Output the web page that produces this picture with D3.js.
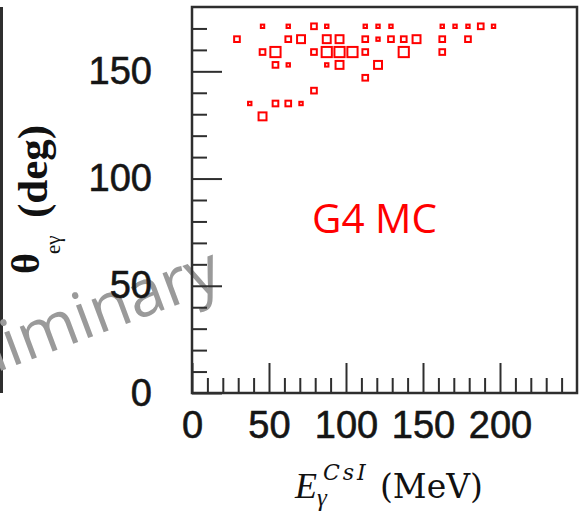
<!DOCTYPE html>
<html>
<head>
<meta charset="utf-8">
<script src="https://cdn.jsdelivr.net/npm/d3@7"></script>
<style>
  html, body { margin: 0; padding: 0; background: #fff; }
  svg { display: block; }
</style>
</head>
<body>
<svg id="chart" width="586" height="527"></svg>
<script>
// ---- data -------------------------------------------------------------
// Axis ranges and tick labels
const xDomain = [0, 250];          // E_gamma (MeV)
const yDomain = [0, 180];          // theta (deg)
const xMajorTicks = [0, 50, 100, 150, 200];
const yMajorTicks = [0, 50, 100, 150];
const xMinorTicks = d3.range(10, 250, 10).filter(v => v % 50 !== 0);
const yMinorTicks = d3.range(10, 180, 10).filter(v => v % 50 !== 0);

// 2D histogram cells (bin centres) and their contents
const cellE = [
  45.8, 62.5, 79.2, 87.5, 112.5, 120.8, 129.2, 162.5, 170.8, 179.2, 187.5, 195.8,
  29.2, 62.5, 70.8, 87.5, 95.8, 112.5, 120.8, 129.2, 137.5, 145.8, 162.5, 179.2,
  45.8, 54.2, 79.2, 87.5, 95.8, 104.2, 112.5, 137.5, 162.5,
  54.2, 62.5, 87.5, 95.8, 120.8,
  112.5,
  79.2,
  37.5, 54.2, 62.5, 70.8,
  45.8
];
const cellTheta = [
  171, 171, 171, 171, 171, 171, 171, 171, 171, 171, 171, 171,
  165, 165, 165, 165, 165, 165, 165, 165, 165, 165, 165, 165,
  159, 159, 159, 159, 159, 159, 159, 159, 159,
  153, 153, 153, 153, 153,
  147,
  141,
  135, 135, 135, 135,
  129
];
const cellCount = [
  1, 1, 2, 1, 1, 1, 1, 1, 1, 1, 2, 1,
  2, 2, 3, 3, 3, 2, 1, 2, 2, 3, 2, 2,
  2, 4, 2, 4, 4, 4, 2, 4, 2,
  2, 1, 1, 3, 3,
  2,
  2,
  1, 2, 2, 1,
  3
];

// ---- layout -----------------------------------------------------------
const svg = d3.select("#chart");
const frame = { left: 192, right: 577, top: 7, bottom: 393 };
const ink = "#2e2e2e";

const x = d3.scaleLinear().domain(xDomain).range([frame.left, frame.right]);
const y = d3.scaleLinear().domain(yDomain).range([frame.bottom, frame.top]);
const boxSide = d3.scaleLinear().domain([1, 4]).range([3.4, 10.2]);

// edge of the neighbouring panel
svg.append("line")
  .attr("x1", 1.5).attr("x2", 1.5)
  .attr("y1", frame.top).attr("y2", frame.bottom)
  .attr("stroke", ink).attr("stroke-width", 3);

// watermark
svg.append("text")
  .attr("transform", "translate(225,287) rotate(-20.5)")
  .attr("text-anchor", "end")
  .attr("font-family", "'Open Sans', 'Noto Sans', sans-serif")
  .attr("font-size", 65)
  .attr("fill", "#9a9a9a")
  .text("Preliminary");

// ---- axes -------------------------------------------------------------
const tickFont = "'Liberation Sans', Arial, sans-serif";

function styleAxis(g) {
  g.select(".domain").remove();
  g.selectAll(".tick line").attr("stroke", ink).attr("stroke-width", 2);
  g.selectAll(".tick text")
    .attr("font-family", tickFont)
    .attr("font-size", 38)
    .attr("fill", "#151515")
    .attr("stroke", "#151515")
    .attr("stroke-width", 0.6);
}

// x axis: minor then major ticks, pointing into the frame
svg.append("g")
  .attr("transform", `translate(0,${frame.bottom})`)
  .call(d3.axisBottom(x).tickValues(xMinorTicks).tickSizeInner(-15).tickSizeOuter(0).tickFormat(""))
  .call(styleAxis);
svg.append("g")
  .attr("transform", `translate(0,${frame.bottom})`)
  .call(d3.axisBottom(x).tickValues(xMajorTicks).tickSizeInner(-30).tickSizeOuter(0).tickPadding(18).tickFormat(d3.format("d")))
  .call(styleAxis);

// y axis
svg.append("g")
  .attr("transform", `translate(${frame.left},0)`)
  .call(d3.axisLeft(y).tickValues(yMinorTicks).tickSizeInner(-15).tickSizeOuter(0).tickFormat(""))
  .call(styleAxis);
svg.append("g")
  .attr("transform", `translate(${frame.left},0)`)
  .call(d3.axisLeft(y).tickValues(yMajorTicks).tickSizeInner(-30).tickSizeOuter(0).tickPadding(40).tickFormat(d3.format("d")))
  .call(styleAxis);

// frame
svg.append("rect")
  .attr("x", frame.left).attr("y", frame.top)
  .attr("width", frame.right - frame.left).attr("height", frame.bottom - frame.top)
  .attr("fill", "none").attr("stroke", ink).attr("stroke-width", 2.5);

// ---- boxes ------------------------------------------------------------
const cells = cellE.map((e, i) => ({ e, t: cellTheta[i], n: cellCount[i] }));
svg.append("g")
  .selectAll("rect")
  .data(cells)
  .join("rect")
  .attr("x", d => x(d.e) - boxSide(d.n) / 2)
  .attr("y", d => y(d.t) - boxSide(d.n) / 2)
  .attr("width", d => boxSide(d.n))
  .attr("height", d => boxSide(d.n))
  .attr("fill", "none")
  .attr("stroke", "#ff0000")
  .attr("stroke-width", 2);

// ---- labels -----------------------------------------------------------
svg.append("text")
  .attr("x", 312).attr("y", 233)
  .attr("font-family", "'Open Sans', 'Noto Sans', sans-serif")
  .attr("font-size", 41)
  .attr("fill", "#ff0000")
  .attr("textLength", 125)
  .attr("lengthAdjust", "spacingAndGlyphs")
  .text("G4 MC");

// y title: theta_{e gamma} (deg), pieces placed along the rotated baseline
const serif = "'Liberation Serif', 'Times New Roman', serif";
const yTitle = svg.append("g").attr("font-family", serif).attr("fill", "#111");
yTitle.append("text")
  .attr("transform", "translate(39,274) rotate(-90)")
  .attr("font-size", 40).attr("font-weight", "bold").text("θ");
yTitle.append("text")
  .attr("transform", "translate(60,254) rotate(-90)")
  .attr("font-size", 21).text("eγ");
yTitle.append("text")
  .attr("transform", "translate(47,218) rotate(-90)")
  .attr("font-size", 43).attr("font-weight", "bold").text("(deg)");

// x title: E_gamma^{CsI} (MeV)
const xTitle = svg.append("g").attr("fill", "#111");
xTitle.append("text").attr("x", 295).attr("y", 498)
  .attr("font-family", serif).attr("font-size", 36).attr("font-style", "italic").text("E");
xTitle.append("text").attr("x", 317).attr("y", 506)
  .attr("font-family", serif).attr("font-size", 25).attr("font-style", "italic").text("γ");
xTitle.append("text").attr("x", 323).attr("y", 480)
  .attr("font-family", "'DejaVu Serif', serif").attr("font-size", 22).attr("font-style", "italic")
  .attr("letter-spacing", 3).text("CsI");
xTitle.append("text").attr("x", 380).attr("y", 498)
  .attr("font-family", "'DejaVu Serif', serif").attr("font-size", 33).text("(MeV)");
</script>
</body>
</html>
